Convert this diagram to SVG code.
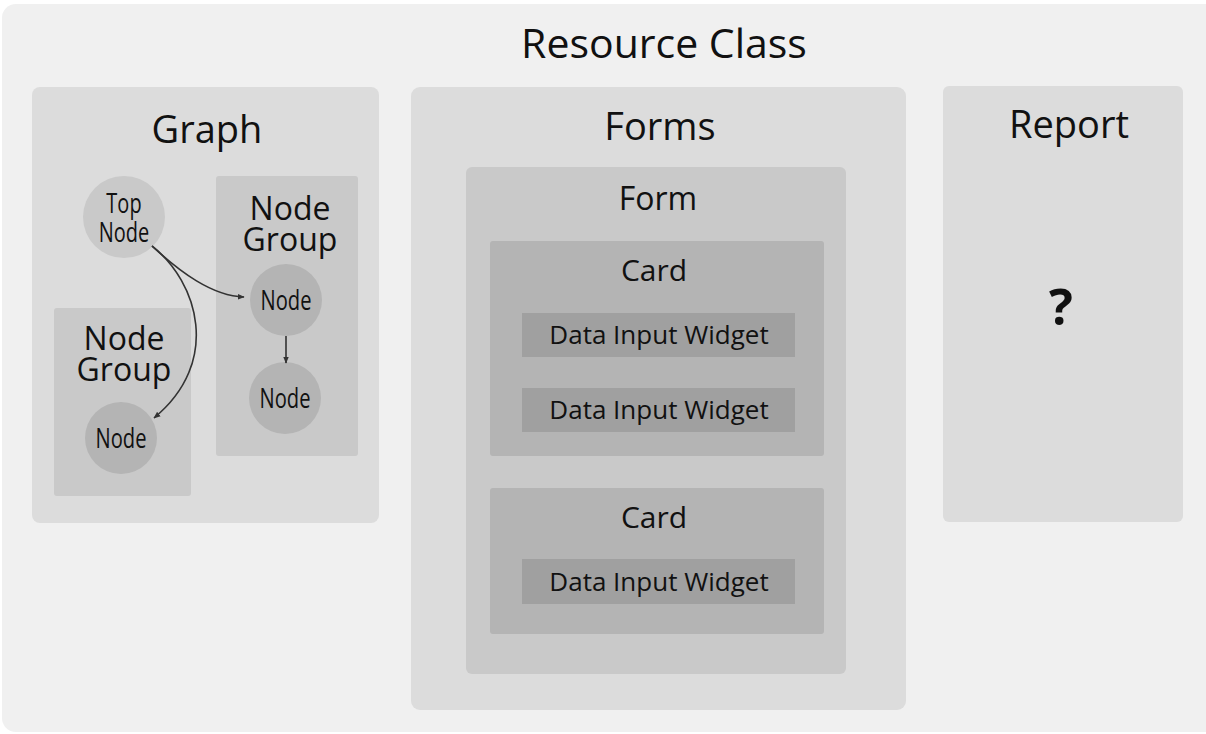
<svg xmlns="http://www.w3.org/2000/svg" width="1206" height="734" viewBox="0 0 1206 734">
<defs>
<style>
text{font-family:"Open Sans","Noto Sans","Liberation Sans",sans-serif;fill:#111;text-anchor:middle}
.l1{fill:#dcdcdc}
.l2{fill:#c9c9c9}
.l3{fill:#b4b4b4}
.l4{fill:#a0a0a0}
.edge{fill:none;stroke:#333;stroke-width:1.6;marker-end:url(#arr)}
</style>
<marker id="arr" viewBox="0 0 10 10" refX="9" refY="5" markerWidth="7" markerHeight="7" orient="auto" markerUnits="userSpaceOnUse">
<path d="M0,1 L10,5 L0,9 z" fill="#333"/>
</marker>
</defs>
<rect width="1206" height="734" fill="#ffffff"/>
<g id="resource-class">
<rect x="2" y="4" width="1220" height="728" rx="14" fill="#f0f0f0"/>
<text x="664" y="58" font-size="41">Resource Class</text>
</g>
<g id="graph">
<rect class="l1" x="32" y="87" width="347" height="436" rx="8"/>
<text x="207" y="143" font-size="38">Graph</text>
</g>
<g id="node-group-right">
<rect class="l2" x="216" y="176" width="142" height="280" rx="3"/>
<text x="290" y="220" font-size="32">Node</text>
<text x="290" y="251" font-size="32">Group</text>
</g>
<g id="node-group-left">
<rect class="l2" x="54" y="308" width="137" height="188" rx="3"/>
<text x="124" y="350" font-size="32">Node</text>
<text x="124" y="381" font-size="32">Group</text>
</g>
<g id="top-node">
<circle class="l2" cx="124" cy="217" r="41"/>
<text x="124" y="213" font-size="27" transform="translate(124 0) scale(0.74 1) translate(-124 0)">Top</text>
<text x="124" y="242" font-size="27" transform="translate(124 0) scale(0.74 1) translate(-124 0)">Node</text>
</g>
<g id="node-r1">
<circle class="l3" cx="286" cy="300" r="36"/>
<text x="286" y="310" font-size="28" transform="translate(286 0) scale(0.72 1) translate(-286 0)">Node</text>
</g>
<g id="node-r2">
<circle class="l3" cx="285" cy="398" r="36"/>
<text x="285" y="408" font-size="28" transform="translate(285 0) scale(0.72 1) translate(-285 0)">Node</text>
</g>
<g id="node-l">
<circle class="l3" cx="121" cy="438" r="36"/>
<text x="121" y="448" font-size="28" transform="translate(121 0) scale(0.72 1) translate(-121 0)">Node</text>
</g>
<g id="connectors">
<path class="edge" d="M152,246 C180,272 212,296 244,297"/>
<path class="edge" d="M152,246 C198,282 222,362 154,418"/>
<path class="edge" d="M286,336 L286,363"/>
</g>
<g id="forms">
<rect class="l1" x="411" y="87" width="495" height="623" rx="9"/>
<text x="660" y="140" font-size="38">Forms</text>
</g>
<g id="form">
<rect class="l2" x="466" y="167" width="380" height="507" rx="6"/>
<text x="658" y="210" font-size="32">Form</text>
</g>
<g id="card1">
<rect class="l3" x="490" y="241" width="334" height="215" rx="3"/>
<text x="654" y="281" font-size="30">Card</text>
</g>
<g id="widget1">
<rect class="l4" x="522" y="313" width="273" height="44"/>
<text x="659" y="344" font-size="26">Data Input Widget</text>
</g>
<g id="widget2">
<rect class="l4" x="522" y="388" width="273" height="44"/>
<text x="659" y="419" font-size="26">Data Input Widget</text>
</g>
<g id="card2">
<rect class="l3" x="490" y="488" width="334" height="146" rx="3"/>
<text x="654" y="528" font-size="30">Card</text>
</g>
<g id="widget3">
<rect class="l4" x="522" y="559" width="273" height="45"/>
<text x="659" y="591" font-size="26">Data Input Widget</text>
</g>
<g id="report">
<rect class="l1" x="943" y="86" width="240" height="436" rx="6"/>
<text x="1069" y="138" font-size="38">Report</text>
<text x="1061" y="325" font-size="50" font-weight="bold">?</text>
</g>
</svg>
